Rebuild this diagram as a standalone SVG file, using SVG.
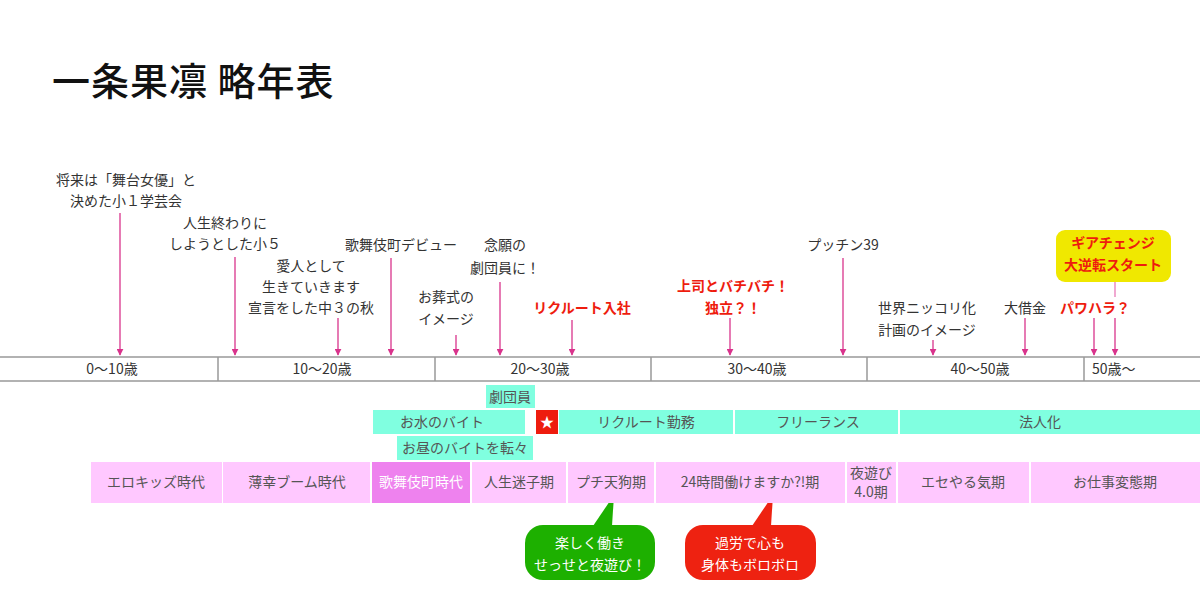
<svg xmlns="http://www.w3.org/2000/svg" width="1200" height="608" viewBox="0 0 1200 608">
<style>
text{font-family:"Noto Sans CJK JP","Noto Sans",sans-serif;}
.t{font-size:14px;fill:#333;text-anchor:middle;}
.r{font-size:14px;fill:#ee1c0e;font-weight:bold;text-anchor:middle;}
.b{font-size:14px;fill:#555;text-anchor:middle;}
.w{font-size:14px;fill:#fff;text-anchor:middle;}
.ax{font-size:14px;fill:#333;text-anchor:middle;}
.teal{fill:#80ffe0;}
.pink{fill:#ffc8ff;}
.arr{stroke:#d9338c;stroke-width:1.3;fill:none;marker-end:url(#ah);}
</style>
<defs>
<marker id="ah" viewBox="0 0 10 10" refX="9" refY="5" markerWidth="7" markerHeight="7" markerUnits="userSpaceOnUse" orient="auto">
<path d="M0,0 L10,5 L0,10 z" fill="#d9338c"/>
</marker>
</defs>
<rect width="1200" height="608" fill="#fff"/>
<text x="52" y="95" style="font-size:38px;font-weight:500;fill:#111;letter-spacing:1px;">一条果凛 略年表</text>

<g id="axis">
<line x1="0" y1="357" x2="1200" y2="357" stroke="#999" stroke-width="1.5"/>
<line x1="0" y1="381" x2="1200" y2="381" stroke="#999" stroke-width="1.5"/>
<line x1="218" y1="357" x2="218" y2="381" stroke="#999" stroke-width="1.5"/>
<line x1="435" y1="357" x2="435" y2="381" stroke="#999" stroke-width="1.5"/>
<line x1="651" y1="357" x2="651" y2="381" stroke="#999" stroke-width="1.5"/>
<line x1="867" y1="357" x2="867" y2="381" stroke="#999" stroke-width="1.5"/>
<line x1="1084" y1="357" x2="1084" y2="381" stroke="#999" stroke-width="1.5"/>
<text class="ax" x="112" y="374">0〜10歳</text>
<text class="ax" x="322" y="374">10〜20歳</text>
<text class="ax" x="540" y="374">20〜30歳</text>
<text class="ax" x="757" y="374">30〜40歳</text>
<text class="ax" x="980" y="374">40〜50歳</text>
<text class="ax" x="1092" y="374" style="text-anchor:start">50歳〜</text>
</g>

<g id="connectors">
<line class="arr" x1="120" y1="213" x2="120" y2="355"/>
<line class="arr" x1="235" y1="257" x2="235" y2="355"/>
<line class="arr" x1="338" y1="318" x2="338" y2="355"/>
<line class="arr" x1="391" y1="258" x2="391" y2="355"/>
<line class="arr" x1="456" y1="335" x2="456" y2="355"/>
<line class="arr" x1="500" y1="282" x2="500" y2="355"/>
<line class="arr" x1="572" y1="320" x2="572" y2="355"/>
<line class="arr" x1="730" y1="318" x2="730" y2="355"/>
<line class="arr" x1="843" y1="258" x2="843" y2="355"/>
<line class="arr" x1="933" y1="340" x2="933" y2="355"/>
<line class="arr" x1="1025" y1="318" x2="1025" y2="355"/>
<line class="arr" x1="1094" y1="318" x2="1094" y2="355"/>
<line x1="1115" y1="282" x2="1115" y2="297" stroke="#e87ab8" stroke-width="1.3"/>
<line class="arr" x1="1115" y1="318" x2="1115" y2="355"/>
<path d="M593,526 L614,495 L612,526 z" fill="#1db000"/>
<path d="M752,526 L773,495 L771,526 z" fill="#ee2211"/>
</g>

<g id="ev1"><text class="t" x="126" y="185">将来は「舞台女優」と</text><text class="t" x="126" y="206">決めた小１学芸会</text></g>
<g id="ev2"><text class="t" x="225" y="228">人生終わりに</text><text class="t" x="225" y="249">しようとした小５</text></g>
<g id="ev3"><text class="t" x="311" y="271">愛人として</text><text class="t" x="311" y="292">生きていきます</text><text class="t" x="311" y="313">宣言をした中３の秋</text></g>
<g id="ev4"><text class="t" x="401" y="250">歌舞伎町デビュー</text></g>
<g id="ev5"><text class="t" x="446" y="302">お葬式の</text><text class="t" x="446" y="324">イメージ</text></g>
<g id="ev6"><text class="t" x="505" y="250">念願の</text><text class="t" x="505" y="273">劇団員に！</text></g>
<g id="ev7"><text class="r" x="582" y="313">リクルート入社</text></g>
<g id="ev8"><text class="r" x="733" y="291">上司とバチバチ！</text><text class="r" x="733" y="313">独立？！</text></g>
<g id="ev9"><text class="t" x="843" y="250">プッチン39</text></g>
<g id="ev10"><text class="t" x="927" y="313">世界ニッコリ化</text><text class="t" x="927" y="335">計画のイメージ</text></g>
<g id="ev11"><text class="t" x="1025" y="313">大借金</text></g>
<g id="ev12"><text class="r" x="1095" y="313">パワハラ？</text></g>
<g id="ev13"><rect x="1056" y="230" width="115" height="52" rx="9" fill="#f0e800"/><text class="r" x="1113" y="248">ギアチェンジ</text><text class="r" x="1113" y="270">大逆転スタート</text></g>

<g id="jobs">
<g id="job-gekidan"><rect class="teal" x="486" y="385" width="49" height="23"/><text class="b" x="510" y="402">劇団員</text></g>
<g id="job-omizu"><rect class="teal" x="373" y="410" width="152" height="24"/><text class="b" x="442" y="427">お水のバイト</text></g>
<g id="job-star"><rect x="536" y="410" width="22" height="24" fill="#ee1c0e"/><text class="w" x="547" y="427">★</text></g>
<g id="job-recruit"><rect class="teal" x="559" y="410" width="174" height="24"/><text class="b" x="646" y="427">リクルート勤務</text></g>
<g id="job-free"><rect class="teal" x="735" y="410" width="163" height="24"/><text class="b" x="818" y="427">フリーランス</text></g>
<g id="job-corp"><rect class="teal" x="900" y="410" width="300" height="24"/><text class="b" x="1040" y="427">法人化</text></g>
<g id="job-ohiru"><rect class="teal" x="397" y="436" width="136" height="24"/><text class="b" x="465" y="453">お昼のバイトを転々</text></g>
</g>

<g id="eras">
<g id="era1"><rect class="pink" x="91" y="462" width="131" height="41"/><text class="b" x="156" y="487">エロキッズ時代</text></g>
<g id="era2"><rect class="pink" x="223" y="462" width="147" height="41"/><text class="b" x="297" y="487">薄幸ブーム時代</text></g>
<g id="era3"><rect x="372" y="462" width="98" height="41" fill="#ee82ee"/><text class="w" x="421" y="487">歌舞伎町時代</text></g>
<g id="era4"><rect class="pink" x="472" y="462" width="94" height="41"/><text class="b" x="519" y="487">人生迷子期</text></g>
<g id="era5"><rect class="pink" x="568" y="462" width="86" height="41"/><text class="b" x="611" y="487">プチ天狗期</text></g>
<g id="era6"><rect class="pink" x="656" y="462" width="189" height="41"/><text class="b" x="750" y="487">24時間働けますか?!期</text></g>
<g id="era7"><rect class="pink" x="847" y="462" width="49" height="41"/><text class="b" x="871" y="478">夜遊び</text><text class="b" x="871" y="497">4.0期</text></g>
<g id="era8"><rect class="pink" x="898" y="462" width="131" height="41"/><text class="b" x="963" y="487">エセやる気期</text></g>
<g id="era9"><rect class="pink" x="1031" y="462" width="169" height="41"/><text class="b" x="1115" y="487">お仕事変態期</text></g>
</g>

<g id="bubble-green"><rect x="525" y="525" width="130" height="55" rx="18" fill="#1db000"/><text class="w" x="590" y="548">楽しく働き</text><text class="w" x="590" y="570">せっせと夜遊び！</text></g>
<g id="bubble-red"><rect x="685" y="525" width="131" height="55" rx="18" fill="#ee2211"/><text class="w" x="750" y="548">過労で心も</text><text class="w" x="750" y="570">身体もボロボロ</text></g>
</svg>
